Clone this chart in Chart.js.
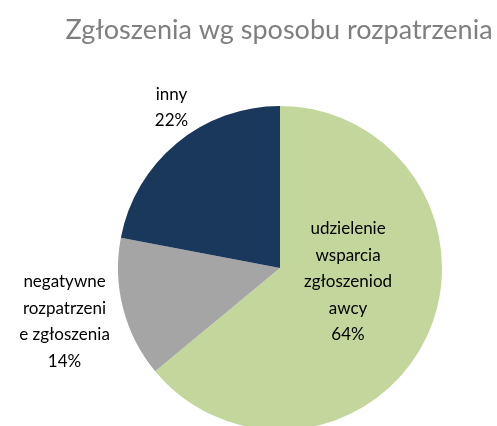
<!DOCTYPE html>
<html lang="pl">
<head>
<meta charset="utf-8">
<script src="https://cdn.jsdelivr.net/npm/chart.js@4/dist/chart.umd.min.js"></script>
<style>
  html, body { margin: 0; padding: 0; background: #fff; overflow: hidden; }
  #wrap { width: 497px; height: 440px; position: relative; }
</style>
</head>
<body>
<div id="wrap"><canvas id="wykres"></canvas></div>
<script>
const tytul = "Zgłoszenia wg sposobu rozpatrzenia";
const kategorie = [
  ["udzielenie", "wsparcia", "zgłoszeniod", "awcy"],
  ["negatywne", "rozpatrzeni", "e zgłoszenia"],
  ["inny"]
];
const wartosci = [64, 14, 22];
const kolory = ["#c3d69b", "#a5a5a5", "#1a375c"];
// przesunięcie środka etykiety względem środka koła, w promieniach
const przesuniecieEtykiet = [[0.42, 0.085], [-1.33, 0.33], [-0.67, -0.99]];

const FONT = "Lato, 'Open Sans', sans-serif";

// tytuł rysowany ręcznie, bo wtyczka title ściska tekst do szerokości obszaru wykresu
const tytulWykresu = {
  id: "tytulWykresu",
  afterDraw(chart) {
    const ctx = chart.ctx;
    const area = chart.chartArea;
    ctx.save();
    ctx.font = "27px " + FONT;
    ctx.fillStyle = "#7f7f7f";
    ctx.textAlign = "center";
    ctx.textBaseline = "alphabetic";
    ctx.fillText(tytul, (area.left + area.right) / 2 - 1, 39);
    ctx.restore();
  }
};

const etykiety = {
  id: "etykiety",
  afterDatasetsDraw(chart) {
    const ctx = chart.ctx;
    const meta = chart.getDatasetMeta(0);
    const suma = wartosci.reduce((a, b) => a + b, 0);
    ctx.save();
    ctx.font = "17px " + FONT;
    ctx.fillStyle = "#000";
    ctx.textAlign = "center";
    ctx.textBaseline = "middle";
    meta.data.forEach((arc, i) => {
      const [fx, fy] = przesuniecieEtykiet[i];
      const x = arc.x + fx * arc.outerRadius;
      const y = arc.y + fy * arc.outerRadius;
      const linie = kategorie[i].concat([Math.round(wartosci[i] / suma * 100) + "%"]);
      const lh = 26.5;
      const y0 = y - (linie.length - 1) * lh / 2;
      linie.forEach((t, j) => ctx.fillText(t, x, y0 + j * lh));
    });
    ctx.restore();
  }
};

new Chart(document.getElementById("wykres"), {
  type: "pie",
  data: {
    labels: kategorie.map((k) => k.join("")),
    datasets: [{
      data: wartosci,
      backgroundColor: kolory,
      borderWidth: 0,
      radius: 162
    }]
  },
  options: {
    responsive: true,
    maintainAspectRatio: false,
    animation: false,
    layout: { padding: { left: 118, right: 55, top: 106, bottom: 10 } },
    plugins: {
      legend: { display: false },
      tooltip: { enabled: false },
      title: { display: false }
    }
  },
  plugins: [etykiety, tytulWykresu]
});
</script>
</body>
</html>
